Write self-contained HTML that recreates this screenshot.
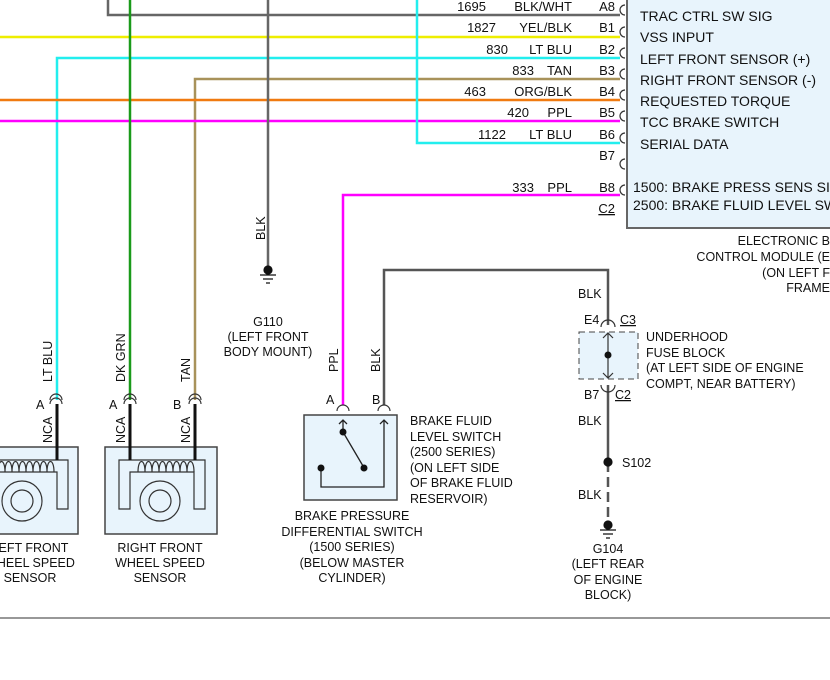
<html><body style="margin:0;background:#fff">
<svg width="830" height="680" xmlns="http://www.w3.org/2000/svg" font-family="Liberation Sans, sans-serif" font-size="13" fill="#111">
<rect x="627" y="-5" width="220" height="233" fill="#e8f4fc" stroke="#666" stroke-width="2"/>
<g font-size="14">
<text x="640" y="21">TRAC CTRL SW SIG</text>
<text x="640" y="42">VSS INPUT</text>
<text x="640" y="64">LEFT FRONT SENSOR (+)</text>
<text x="640" y="85">RIGHT FRONT SENSOR (-)</text>
<text x="640" y="106">REQUESTED TORQUE</text>
<text x="640" y="127">TCC BRAKE SWITCH</text>
<text x="640" y="149">SERIAL DATA</text>
<text x="633" y="192">1500: BRAKE PRESS SENS SIG</text>
<text x="633" y="210">2500: BRAKE FLUID LEVEL SW</text>
</g>
<g fill="none" stroke-width="2.5">
<path d="M108 0V15H620" stroke="#666"/>
<path d="M0 37H620" stroke="#ee0"/>
<path d="M57 400V58H620" stroke="#2ee"/>
<path d="M195 400V79H620" stroke="#a8925a"/>
<path d="M0 100H620" stroke="#f07a10"/>
<path d="M0 121H620" stroke="#f0f"/>
<path d="M417 0V143H620" stroke="#2ee"/>
<path d="M343 405V195H620" stroke="#f0f"/>
<path d="M130 0V400" stroke="#1a9a1a"/>
<path d="M268 0V268" stroke="#666"/>
<path d="M384 405V270H608V325" stroke="#555"/>
<path d="M608 385V462" stroke="#555"/>
<path d="M608 462V525" stroke="#555" stroke-dasharray="10,5"/>
</g>
<g fill="none" stroke="#333" stroke-width="1.2">
<path d="M625 5a5 5 0 0 0 0 10 M625 27a5 5 0 0 0 0 10 M625 48a5 5 0 0 0 0 10 M625 69a5 5 0 0 0 0 10 M625 90a5 5 0 0 0 0 10 M625 111a5 5 0 0 0 0 10 M625 133a5 5 0 0 0 0 10 M625 159a5 5 0 0 0 0 10 M625 185a5 5 0 0 0 0 10"/>
</g>
<g text-anchor="end">
<text x="486" y="11">1695</text><text x="572" y="11">BLK/WHT</text><text x="615" y="11">A8</text>
<text x="496" y="32">1827</text><text x="572" y="32">YEL/BLK</text><text x="615" y="32">B1</text>
<text x="508" y="54">830</text><text x="572" y="54">LT BLU</text><text x="615" y="54">B2</text>
<text x="534" y="75">833</text><text x="572" y="75">TAN</text><text x="615" y="75">B3</text>
<text x="486" y="96">463</text><text x="572" y="96">ORG/BLK</text><text x="615" y="96">B4</text>
<text x="529" y="117">420</text><text x="572" y="117">PPL</text><text x="615" y="117">B5</text>
<text x="506" y="139">1122</text><text x="572" y="139">LT BLU</text><text x="615" y="139">B6</text>
<text x="615" y="160">B7</text>
<text x="534" y="192">333</text><text x="572" y="192">PPL</text><text x="615" y="192">B8</text>
<text x="615" y="213" text-decoration="underline">C2</text>
</g>
<g text-anchor="middle" font-size="12.5">
<text x="830" y="245" text-anchor="end">ELECTRONIC B</text>
<text x="830" y="261" text-anchor="end">CONTROL MODULE (E</text>
<text x="830" y="277" text-anchor="end">(ON LEFT F</text>
<text x="830" y="292" text-anchor="end">FRAME</text>
<text x="268" y="326">G110</text><text x="268" y="341">(LEFT FRONT</text><text x="268" y="356">BODY MOUNT)</text>
<text x="30" y="552">LEFT FRONT</text><text x="30" y="567">WHEEL SPEED</text><text x="30" y="582">SENSOR</text>
<text x="160" y="552">RIGHT FRONT</text><text x="160" y="567">WHEEL SPEED</text><text x="160" y="582">SENSOR</text>
<text x="352" y="520">BRAKE PRESSURE</text><text x="352" y="536">DIFFERENTIAL SWITCH</text><text x="352" y="551">(1500 SERIES)</text><text x="352" y="567">(BELOW MASTER</text><text x="352" y="582">CYLINDER)</text>
<text x="608" y="553">G104</text><text x="608" y="568">(LEFT REAR</text><text x="608" y="584">OF ENGINE</text><text x="608" y="599">BLOCK)</text>
</g>
<g font-size="12.5">
<text x="410" y="425">BRAKE FLUID</text><text x="410" y="441">LEVEL SWITCH</text><text x="410" y="456">(2500 SERIES)</text><text x="410" y="472">(ON LEFT SIDE</text><text x="410" y="487">OF BRAKE FLUID</text><text x="410" y="503">RESERVOIR)</text>
<text x="646" y="341">UNDERHOOD</text><text x="646" y="357">FUSE BLOCK</text><text x="646" y="372">(AT LEFT SIDE OF ENGINE</text><text x="646" y="388">COMPT, NEAR BATTERY)</text>
<text x="578" y="298">BLK</text><text x="578" y="425">BLK</text><text x="578" y="499">BLK</text>
<text x="622" y="467">S102</text>
<text x="584" y="324">E4</text><text x="620" y="324" text-decoration="underline">C3</text>
<text x="584" y="399">B7</text><text x="615" y="399" text-decoration="underline">C2</text>
<text x="36" y="409">A</text><text x="109" y="409">A</text><text x="173" y="409">B</text>
<text x="326" y="404">A</text><text x="372" y="404">B</text>
</g>
<g font-size="12.5">
<text transform="translate(265,240) rotate(-90)">BLK</text>
<text transform="translate(52,382) rotate(-90)">LT BLU</text>
<text transform="translate(125,382) rotate(-90)">DK GRN</text>
<text transform="translate(190,382) rotate(-90)">TAN</text>
<text transform="translate(338,372) rotate(-90)">PPL</text>
<text transform="translate(380,372) rotate(-90)">BLK</text>
<text transform="translate(52,443) rotate(-90)">NCA</text>
<text transform="translate(125,443) rotate(-90)">NCA</text>
<text transform="translate(190,443) rotate(-90)">NCA</text>
</g>
<g stroke="#111" stroke-width="1.2">
<circle cx="268" cy="270" r="4"/><path d="M260 275H276M263 279H273M266 283H270"/>
<circle cx="608" cy="525" r="4"/><path d="M600 530H616M603 534H613M606 538H610"/>
<circle cx="608" cy="462" r="4"/>
</g>
<rect x="579" y="332" width="59" height="47" fill="#e8f4fc" stroke="#444" stroke-dasharray="6,4"/>
<g fill="none" stroke="#333" stroke-width="1.2"><path d="M601 327a7 7 0 0 1 14 0M601 385a7 7 0 0 0 14 0M608 333V378M603 338l5-5 5 5M603 373l5 5 5-5"/></g>
<circle cx="608" cy="355" r="3.5"/>
<g fill="#e8f4fc" stroke="#444" stroke-width="1.5">
<rect x="-30" y="447" width="108" height="87"/><rect x="105" y="447" width="112" height="87"/>
</g>
<g fill="none" stroke="#333" stroke-width="1.2">
<path d="M-5 460H68V509H57V472H-5"/>
<path d="M119 509V460H205V509H194V472H130V509Z"/>
<path d="M-2 472c0-14 7-14 7 0M5 472c0-14 7-14 7 0M12 472c0-14 7-14 7 0M19 472c0-14 7-14 7 0M26 472c0-14 7-14 7 0M33 472c0-14 7-14 7 0M40 472c0-14 7-14 7 0M47 472c0-14 7-14 7 0"/>
<path d="M138 472c0-14 7-14 7 0M145 472c0-14 7-14 7 0M152 472c0-14 7-14 7 0M159 472c0-14 7-14 7 0M166 472c0-14 7-14 7 0M173 472c0-14 7-14 7 0M180 472c0-14 7-14 7 0M187 472c0-14 7-14 7 0"/>
<circle cx="22" cy="501" r="20"/><circle cx="22" cy="501" r="11"/>
<circle cx="160" cy="501" r="20"/><circle cx="160" cy="501" r="11"/>
<path d="M50 400a6 6 0 0 1 12 0M50 404a6 6 0 0 1 12 0M124 400a6 6 0 0 1 12 0M124 404a6 6 0 0 1 12 0M189 400a6 6 0 0 1 12 0M189 404a6 6 0 0 1 12 0"/>
<path d="M337 411a6 6 0 0 1 12 0M378 411a6 6 0 0 1 12 0"/>
</g>
<g stroke="#111" stroke-width="3"><path d="M57 404V460M130 404V460M195 404V460"/></g>
<rect x="304" y="415" width="93" height="85" fill="#e8f4fc" stroke="#444" stroke-width="1.5"/>
<g fill="none" stroke="#222" stroke-width="1.3"><path d="M343 420V432M339 424l4-4 4 4M384 420V487H321V468M380 424l4-4 4 4M343 432L363 466"/></g>
<circle cx="343" cy="432" r="3.5"/><circle cx="364" cy="468" r="3.5"/><circle cx="321" cy="468" r="3.5"/>
<path d="M0 618H830" stroke="#777" stroke-width="1.5"/>
</svg>
</body></html>
